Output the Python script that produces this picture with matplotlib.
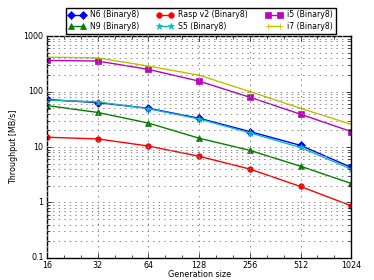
import numpy as np
import matplotlib
matplotlib.use('Agg')
import matplotlib.pyplot as plt
from matplotlib.ticker import FixedLocator, FixedFormatter, NullFormatter

plt.style.use('classic')

sizes = [16, 32, 64, 128, 256, 512, 1024]
n6 = [72, 63, 50, 33, 19, 10.7, 4.3]
n9 = [56, 42, 27, 14.4, 8.7, 4.5, 2.2]
rasp = [15, 14, 10.4, 6.8, 4.0, 1.94, 0.87]
s5 = [70, 65, 49, 32, 18, 9.8, 4.0]
i5 = [365, 355, 251, 154, 79, 39, 19]
i7 = [417, 405, 288, 197, 100, 50, 25.7]

fig = plt.figure(figsize=(3.74, 2.8), dpi=100, facecolor='white')
ax = fig.add_axes([0.126, 0.079, 0.813, 0.792])

ms = 4
ax.plot(sizes, n6, 'b-', marker='D', ms=ms, mec='b', label='N6 (Binary8)')
ax.plot(sizes, n9, 'g-', marker='^', ms=ms, mec='g', label='N9 (Binary8)')
ax.plot(sizes, rasp, 'r-', marker='o', ms=ms, mec='r', label='Rasp v2 (Binary8)')
ax.plot(sizes, s5, 'c-', marker='*', ms=ms + 1, mec='c', label='S5 (Binary8)')
ax.plot(sizes, i5, 'm-', marker='s', ms=ms, mec='m', label='i5 (Binary8)')
ax.plot(sizes, i7, 'y-', marker='+', ms=ms, mec='y', label='i7 (Binary8)')

ax.set_xscale('log', base=2)
ax.set_yscale('log')
ax.set_xlim(16, 1024)
ax.set_ylim(0.1, 1000)

ax.xaxis.set_major_locator(FixedLocator(sizes))
ax.xaxis.set_major_formatter(FixedFormatter([str(s) for s in sizes]))
minors = []
for s in sizes[:-1]:
    minors += [s * 2 ** (1 / 3), s * 2 ** (2 / 3)]
ax.xaxis.set_minor_locator(FixedLocator(minors))
ax.xaxis.set_minor_formatter(NullFormatter())

yt = [0.1, 1, 10, 100, 1000]
ax.yaxis.set_major_locator(FixedLocator(yt))
ax.yaxis.set_major_formatter(FixedFormatter(['0.1', '1', '10', '100', '1000']))

ax.grid(True, which='major', linestyle=':', color='#888888', linewidth=0.7)
ax.yaxis.grid(True, which='minor', linestyle=':', color='#888888', linewidth=0.7)

ax.tick_params(labelsize=5.8, which='both', pad=2.5)
ax.tick_params(which='major', length=3.5)
ax.tick_params(which='minor', length=2)

ax.set_xlabel('Generation size', fontsize=5.8, labelpad=0)
ax.set_ylabel('Throughput [MB/s]', fontsize=5.8, labelpad=4)

ax.legend(loc='upper center', bbox_to_anchor=(0.505, 1.146), ncol=3,
          fontsize=5.6, numpoints=2, handlelength=2.2, borderpad=0.35,
          labelspacing=0.35, columnspacing=2.2, handletextpad=0.6,
          fancybox=False)

fig.savefig('out.png', dpi=100, facecolor='white')
